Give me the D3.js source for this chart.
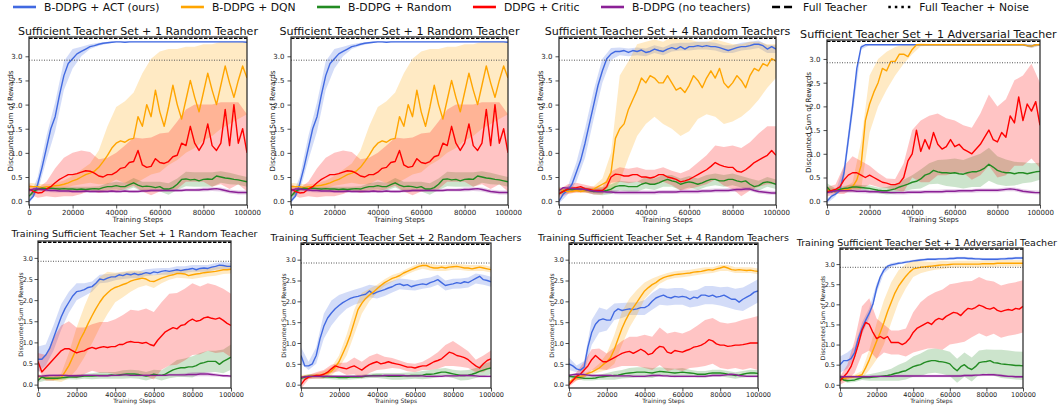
<!DOCTYPE html>
<html>
<head>
<meta charset="utf-8">
<script src="https://cdn.jsdelivr.net/npm/d3@7"></script>
<style>
  body { margin: 0; background: #fff; }
  svg { display: block; font-family: "DejaVu Sans", sans-serif; }
</style>
</head>
<body>
<svg id="chart" width="1060" height="410"></svg>
<script>
// training steps of the mean curves (every 2000) and of the shaded bands (every 4000)
const steps = d3.range(0, 100001, 2000);
const bandSteps = d3.range(0, 100001, 4000);

const xTicks = [0, 20000, 40000, 60000, 80000, 100000];
const yTicks = [0, 0.5, 1, 1.5, 2, 2.5, 3];
const fullTeacher = 3.37;
const noisyTeacher = 2.92;

const methodLabels = ["B-DDPG + ACT (ours)", "B-DDPG + DQN", "B-DDPG + Random", "DDPG + Critic", "B-DDPG (no teachers)"];
const methodKeys = ["act", "dqn", "random", "critic", "none"];

const titles = [
  "Sufficient Teacher Set + 1 Random Teacher",
  "Sufficient Teacher Set + 1 Random Teacher",
  "Sufficient Teacher Set + 4 Random Teachers",
  "Sufficient Teacher Set + 1 Adversarial Teacher",
  "Training Sufficient Teacher Set + 1 Random Teacher",
  "Training Sufficient Teacher Set + 2 Random Teachers",
  "Training Sufficient Teacher Set + 4 Random Teachers",
  "Training Sufficient Teacher Set + 1 Adversarial Teacher"
];

// ---- panel 1 (also shown as panel 2) ----
const p1Act = [
  0.0, 0.1, 0.35, 0.7, 1.1, 1.5, 1.75, 2.2, 2.6, 2.85,
  2.95, 3.05, 3.1, 3.15, 3.2, 3.22, 3.25, 3.27, 3.28, 3.29,
  3.3, 3.3, 3.29, 3.3, 3.3, 3.3, 3.3, 3.3, 3.3, 3.3,
  3.3, 3.3, 3.3, 3.3, 3.3, 3.3, 3.3, 3.3, 3.3, 3.3,
  3.3, 3.3, 3.3, 3.3, 3.3, 3.3, 3.3, 3.3, 3.3, 3.3,
  3.29];
const p1ActSd = [0.05, 0.15, 0.25, 0.3, 0.3, 0.2, 0.1, 0.05, 0.03, 0.02, 0.01, 0.01, 0.01, 0.01, 0.01, 0.01, 0.01, 0.01, 0.01, 0.01, 0.01, 0.01, 0.01, 0.01, 0.01, 0.01];
const p1Dqn = [
  0.3, 0.3, 0.3, 0.28, 0.3, 0.3, 0.32, 0.33, 0.35, 0.38,
  0.42, 0.45, 0.5, 0.55, 0.58, 0.62, 0.7, 0.82, 0.95, 1.1,
  1.2, 1.25, 1.22, 1.28, 1.3, 1.75, 1.55, 2.0, 1.75, 2.3,
  1.85, 1.55, 1.95, 2.4, 2.0, 1.7, 2.1, 2.5, 2.15, 1.85,
  2.25, 2.65, 2.3, 2.0, 2.4, 2.8, 2.45, 2.15, 2.5, 2.8,
  2.55];
const p1DqnSd = [0.08, 0.06, 0.05, 0.05, 0.08, 0.1, 0.15, 0.2, 0.35, 0.6, 0.75, 0.85, 0.95, 1.1, 1.2, 1.25, 1.2, 1.15, 1.1, 1.05, 1.0, 0.95, 0.9, 0.85, 0.8, 0.75];
const p1Random = [
  0.1, 0.2, 0.25, 0.27, 0.26, 0.27, 0.26, 0.25, 0.26, 0.25,
  0.25, 0.24, 0.25, 0.24, 0.25, 0.26, 0.25, 0.28, 0.3, 0.3,
  0.32, 0.3, 0.3, 0.34, 0.38, 0.33, 0.3, 0.31, 0.3, 0.28,
  0.3, 0.25, 0.25, 0.28, 0.35, 0.45, 0.46, 0.44, 0.45, 0.42,
  0.45, 0.46, 0.45, 0.52, 0.5, 0.48, 0.47, 0.45, 0.44, 0.42,
  0.4];
const p1RandomSd = [0.05, 0.05, 0.04, 0.04, 0.04, 0.05, 0.05, 0.05, 0.06, 0.07, 0.08, 0.08, 0.1, 0.1, 0.1, 0.1, 0.12, 0.12, 0.15, 0.15, 0.15, 0.15, 0.12, 0.12, 0.1, 0.1];
const p1Critic = [
  0.25, 0.2, 0.17, 0.18, 0.25, 0.3, 0.38, 0.45, 0.5, 0.55,
  0.55, 0.57, 0.6, 0.63, 0.62, 0.58, 0.52, 0.5, 0.55, 0.55,
  0.6, 0.68, 0.7, 0.8, 0.82, 1.05, 0.75, 0.7, 0.72, 0.88,
  0.8, 0.78, 0.82, 0.92, 0.95, 1.2, 1.15, 1.55, 1.2, 1.05,
  1.2, 1.6, 1.15, 1.05, 1.2, 1.9, 1.15, 2.0, 1.2, 1.5,
  1.0];
const p1CriticSd = [0.1, 0.1, 0.15, 0.3, 0.4, 0.45, 0.45, 0.4, 0.35, 0.35, 0.4, 0.45, 0.5, 0.55, 0.6, 0.6, 0.6, 0.7, 0.75, 0.8, 0.8, 0.85, 0.85, 0.9, 0.85, 0.8];
const p1None = [
  0.22, 0.25, 0.25, 0.24, 0.23, 0.22, 0.22, 0.21, 0.21, 0.21,
  0.2, 0.2, 0.2, 0.21, 0.2, 0.2, 0.2, 0.2, 0.2, 0.21,
  0.2, 0.2, 0.21, 0.2, 0.2, 0.2, 0.21, 0.21, 0.22, 0.22,
  0.22, 0.22, 0.22, 0.22, 0.22, 0.22, 0.23, 0.23, 0.23, 0.23,
  0.24, 0.24, 0.25, 0.26, 0.24, 0.22, 0.2, 0.19, 0.18, 0.18,
  0.18];
const p1NoneSd = [0.04, 0.04, 0.04, 0.04, 0.03, 0.03, 0.03, 0.03, 0.03, 0.03, 0.03, 0.03, 0.03, 0.03, 0.03, 0.03, 0.03, 0.03, 0.03, 0.03, 0.04, 0.04, 0.04, 0.04, 0.04, 0.04];

// ---- panel 3 ----
const p3Act = [
  0.0, 0.15, 0.22, 0.35, 0.6, 0.85, 1.2, 1.6, 2.0, 2.4,
  2.7, 2.95, 3.05, 3.1, 3.1, 3.12, 3.08, 3.12, 3.1, 3.13,
  3.08, 3.1, 3.15, 3.12, 3.1, 3.15, 3.18, 3.15, 3.2, 3.15,
  3.2, 3.2, 3.22, 3.2, 3.22, 3.2, 3.2, 3.18, 3.15, 3.12,
  3.15, 3.18, 3.2, 3.2, 3.22, 3.25, 3.25, 3.22, 3.15, 3.2,
  3.15];
const p3ActSd = [0.05, 0.08, 0.2, 0.3, 0.3, 0.25, 0.12, 0.08, 0.08, 0.08, 0.08, 0.08, 0.08, 0.08, 0.08, 0.08, 0.08, 0.08, 0.08, 0.08, 0.08, 0.08, 0.08, 0.08, 0.08, 0.08];
const p3Dqn = [
  0.25, 0.22, 0.2, 0.2, 0.22, 0.2, 0.22, 0.22, 0.25, 0.3,
  0.35, 0.4, 0.6, 1.3, 1.5, 1.6, 1.9, 2.1, 2.3, 2.55,
  2.45, 2.6, 2.55, 2.45, 2.45, 2.6, 2.45, 2.3, 2.35, 2.25,
  2.4, 2.6, 2.5, 2.35, 2.55, 2.7, 2.55, 2.75, 2.45, 2.35,
  2.45, 2.6, 2.5, 2.35, 2.6, 2.75, 2.7, 2.85, 2.8, 2.95,
  2.9];
const p3DqnSd = [0.05, 0.04, 0.04, 0.05, 0.06, 0.12, 0.4, 1.1, 1.0, 0.95, 0.85, 0.8, 0.85, 0.95, 1.0, 0.95, 0.8, 0.75, 0.8, 0.85, 0.8, 0.75, 0.7, 0.6, 0.45, 0.35];
const p3Random = [
  0.15, 0.2, 0.25, 0.24, 0.25, 0.25, 0.24, 0.22, 0.2, 0.2,
  0.2, 0.22, 0.25, 0.3, 0.32, 0.32, 0.3, 0.3, 0.3, 0.35,
  0.38, 0.35, 0.35, 0.38, 0.42, 0.45, 0.42, 0.4, 0.35, 0.38,
  0.4, 0.38, 0.35, 0.38, 0.42, 0.45, 0.45, 0.42, 0.42, 0.45,
  0.45, 0.42, 0.4, 0.42, 0.35, 0.3, 0.32, 0.38, 0.4, 0.38,
  0.35];
const p3RandomSd = [0.05, 0.05, 0.05, 0.05, 0.06, 0.08, 0.1, 0.1, 0.1, 0.1, 0.12, 0.12, 0.12, 0.12, 0.12, 0.12, 0.12, 0.12, 0.12, 0.12, 0.12, 0.12, 0.12, 0.1, 0.1, 0.1];
const p3Critic = [
  0.15, 0.2, 0.25, 0.27, 0.28, 0.3, 0.26, 0.24, 0.22, 0.22,
  0.22, 0.3, 0.5, 0.56, 0.55, 0.52, 0.52, 0.55, 0.55, 0.5,
  0.5, 0.48, 0.5, 0.55, 0.55, 0.5, 0.48, 0.45, 0.4, 0.42,
  0.45, 0.5, 0.55, 0.6, 0.65, 0.72, 0.8, 0.75, 0.72, 0.7,
  0.7, 0.62, 0.6, 0.65, 0.72, 0.8, 0.85, 0.9, 0.95, 1.05,
  0.95];
const p3CriticSd = [0.08, 0.1, 0.1, 0.08, 0.08, 0.08, 0.12, 0.15, 0.15, 0.15, 0.15, 0.15, 0.15, 0.15, 0.18, 0.2, 0.25, 0.3, 0.35, 0.4, 0.45, 0.5, 0.5, 0.55, 0.6, 0.6];
const p3None = [
  0.22, 0.28, 0.27, 0.26, 0.25, 0.25, 0.24, 0.22, 0.21, 0.2,
  0.2, 0.19, 0.19, 0.18, 0.18, 0.18, 0.18, 0.18, 0.18, 0.18,
  0.18, 0.18, 0.18, 0.19, 0.19, 0.19, 0.19, 0.19, 0.2, 0.2,
  0.2, 0.2, 0.2, 0.21, 0.21, 0.21, 0.22, 0.22, 0.22, 0.22,
  0.23, 0.24, 0.24, 0.25, 0.25, 0.22, 0.2, 0.19, 0.18, 0.17,
  0.17];
const p3NoneSd = [0.05, 0.05, 0.04, 0.04, 0.04, 0.04, 0.04, 0.04, 0.04, 0.04, 0.04, 0.04, 0.04, 0.04, 0.04, 0.04, 0.04, 0.04, 0.04, 0.04, 0.04, 0.04, 0.04, 0.04, 0.04, 0.04];

// ---- panel 4 ----
const p4Act = [
  0.0, 0.1, 0.15, 0.22, 0.6, 1.3, 2.0, 2.8, 3.25, 3.3,
  3.3, 3.3, 3.3, 3.3, 3.3, 3.3, 3.3, 3.3, 3.3, 3.3,
  3.3, 3.3, 3.3, 3.3, 3.3, 3.3, 3.3, 3.3, 3.3, 3.3,
  3.3, 3.3, 3.3, 3.3, 3.3, 3.3, 3.3, 3.3, 3.3, 3.3,
  3.3, 3.3, 3.3, 3.3, 3.3, 3.3, 3.3, 3.28, 3.27, 3.3,
  3.3];
const p4ActSd = [0.05, 0.05, 0.15, 0.2, 0.05, 0.01, 0.01, 0.01, 0.01, 0.01, 0.01, 0.01, 0.01, 0.01, 0.01, 0.01, 0.01, 0.01, 0.01, 0.01, 0.01, 0.01, 0.01, 0.02, 0.04, 0.01];
const p4Dqn = [
  0.25, 0.2, 0.22, 0.25, 0.25, 0.25, 0.3, 0.45, 0.75, 1.7,
  2.05, 2.3, 2.5, 2.8, 2.75, 2.95, 2.95, 3.1, 3.1, 3.05,
  3.2, 3.3, 3.3, 3.3, 3.3, 3.3, 3.3, 3.3, 3.3, 3.3,
  3.3, 3.3, 3.3, 3.3, 3.3, 3.3, 3.3, 3.3, 3.3, 3.3,
  3.3, 3.3, 3.3, 3.3, 3.3, 3.3, 3.3, 3.28, 3.27, 3.3,
  3.3];
const p4DqnSd = [0.05, 0.04, 0.04, 0.1, 0.5, 0.6, 0.5, 0.4, 0.3, 0.2, 0.1, 0.03, 0.02, 0.02, 0.02, 0.02, 0.02, 0.02, 0.02, 0.02, 0.02, 0.02, 0.02, 0.02, 0.04, 0.02];
const p4Random = [
  0.3, 0.2, 0.22, 0.25, 0.27, 0.28, 0.3, 0.3, 0.29, 0.28,
  0.27, 0.25, 0.23, 0.22, 0.22, 0.24, 0.26, 0.3, 0.33, 0.36,
  0.4, 0.42, 0.47, 0.55, 0.58, 0.65, 0.62, 0.6, 0.6, 0.59,
  0.6, 0.58, 0.57, 0.6, 0.62, 0.62, 0.65, 0.7, 0.78, 0.72,
  0.65, 0.62, 0.6, 0.6, 0.58, 0.6, 0.6, 0.58, 0.6, 0.62,
  0.63];
const p4RandomSd = [0.08, 0.05, 0.05, 0.05, 0.05, 0.06, 0.06, 0.08, 0.1, 0.12, 0.15, 0.2, 0.22, 0.25, 0.28, 0.3, 0.3, 0.32, 0.35, 0.35, 0.3, 0.28, 0.25, 0.22, 0.2, 0.18];
const p4Critic = [
  0.2, 0.22, 0.25, 0.3, 0.45, 0.55, 0.6, 0.6, 0.55, 0.5,
  0.55, 0.5, 0.45, 0.4, 0.38, 0.35, 0.35, 0.38, 0.5, 0.85,
  1.0, 1.5, 1.05, 1.3, 1.1, 1.45, 1.2, 1.1, 1.15, 1.3,
  1.15, 1.2, 1.1, 1.05, 1.0, 1.1, 1.2, 1.35, 1.5, 1.3,
  1.25, 1.45, 1.35, 1.8, 1.65, 2.2, 1.7, 2.05, 1.9, 2.1,
  1.6];
const p4CriticSd = [0.1, 0.1, 0.3, 0.35, 0.3, 0.2, 0.15, 0.1, 0.12, 0.3, 0.5, 0.65, 0.7, 0.65, 0.6, 0.55, 0.5, 0.55, 0.65, 0.75, 0.75, 0.8, 0.9, 0.95, 1.0, 0.9];
const p4None = [
  0.18, 0.2, 0.22, 0.22, 0.22, 0.22, 0.22, 0.21, 0.21, 0.21,
  0.2, 0.2, 0.2, 0.19, 0.19, 0.18, 0.18, 0.18, 0.18, 0.19,
  0.19, 0.19, 0.19, 0.2, 0.2, 0.2, 0.2, 0.2, 0.21, 0.21,
  0.21, 0.22, 0.22, 0.22, 0.22, 0.23, 0.23, 0.23, 0.23, 0.23,
  0.23, 0.24, 0.25, 0.26, 0.25, 0.23, 0.21, 0.2, 0.19, 0.18,
  0.18];
const p4NoneSd = [0.04, 0.04, 0.04, 0.04, 0.04, 0.04, 0.04, 0.04, 0.04, 0.04, 0.04, 0.04, 0.04, 0.04, 0.04, 0.04, 0.04, 0.04, 0.04, 0.04, 0.04, 0.04, 0.04, 0.04, 0.04, 0.04];

// ---- panel 5 ----
const p5Act = [
  0.6, 0.6, 0.7, 0.85, 1.1, 1.35, 1.6, 1.8, 1.95, 2.1,
  2.2, 2.22, 2.25, 2.3, 2.32, 2.4, 2.5, 2.48, 2.52, 2.55,
  2.55, 2.6, 2.58, 2.62, 2.6, 2.63, 2.6, 2.62, 2.65, 2.63,
  2.67, 2.65, 2.68, 2.7, 2.68, 2.7, 2.72, 2.7, 2.72, 2.73,
  2.75, 2.72, 2.75, 2.76, 2.75, 2.78, 2.8, 2.83, 2.82, 2.8,
  2.8];
const p5ActSd = [0.3, 0.25, 0.3, 0.3, 0.25, 0.2, 0.15, 0.12, 0.1, 0.1, 0.08, 0.08, 0.08, 0.08, 0.08, 0.08, 0.08, 0.08, 0.08, 0.08, 0.08, 0.08, 0.08, 0.08, 0.08, 0.08];
const p5Dqn = [
  0.2, 0.18, 0.15, 0.15, 0.14, 0.14, 0.16, 0.3, 0.45, 0.65,
  0.85, 1.08, 1.25, 1.45, 1.63, 1.8, 1.95, 2.08, 2.17, 2.25,
  2.3, 2.33, 2.37, 2.4, 2.45, 2.48, 2.5, 2.52, 2.5, 2.45,
  2.44, 2.48, 2.52, 2.55, 2.58, 2.6, 2.63, 2.63, 2.62, 2.58,
  2.6, 2.62, 2.63, 2.65, 2.66, 2.67, 2.68, 2.7, 2.72, 2.72,
  2.73];
const p5DqnSd = [0.05, 0.05, 0.05, 0.1, 0.3, 0.5, 0.6, 0.65, 0.6, 0.5, 0.35, 0.3, 0.25, 0.2, 0.15, 0.15, 0.12, 0.1, 0.1, 0.1, 0.1, 0.1, 0.1, 0.1, 0.1, 0.1];
const p5Random = [
  0.1, 0.18, 0.15, 0.15, 0.15, 0.15, 0.16, 0.17, 0.18, 0.18,
  0.18, 0.19, 0.2, 0.2, 0.2, 0.21, 0.22, 0.22, 0.22, 0.23,
  0.22, 0.23, 0.24, 0.25, 0.25, 0.25, 0.24, 0.22, 0.2, 0.22,
  0.25, 0.23, 0.22, 0.25, 0.3, 0.35, 0.38, 0.4, 0.4, 0.42,
  0.42, 0.45, 0.5, 0.52, 0.55, 0.55, 0.55, 0.48, 0.55, 0.6,
  0.65];
const p5RandomSd = [0.05, 0.05, 0.05, 0.05, 0.05, 0.06, 0.06, 0.07, 0.08, 0.08, 0.08, 0.1, 0.1, 0.1, 0.1, 0.1, 0.12, 0.15, 0.2, 0.22, 0.25, 0.25, 0.25, 0.25, 0.28, 0.3];
const p5Critic = [
  0.55, 0.3, 0.4, 0.5, 0.6, 0.7, 0.8, 0.85, 0.85, 0.8,
  0.75, 0.78, 0.8, 0.85, 0.88, 0.85, 0.88, 0.9, 0.88, 0.9,
  0.9, 0.95, 0.95, 1.0, 1.02, 1.0, 1.0, 0.98, 1.0, 0.95,
  0.92, 1.05, 1.15, 1.25, 1.3, 1.35, 1.32, 1.4, 1.42, 1.5,
  1.55, 1.5, 1.52, 1.58, 1.6, 1.57, 1.55, 1.58, 1.52, 1.45,
  1.4];
const p5CriticSd = [0.2, 0.3, 0.5, 0.6, 0.65, 0.6, 0.55, 0.55, 0.6, 0.6, 0.65, 0.7, 0.75, 0.75, 0.8, 0.8, 0.8, 0.85, 0.85, 0.85, 0.85, 0.8, 0.8, 0.8, 0.75, 0.75];
const p5None = [
  0.2, 0.2, 0.21, 0.22, 0.22, 0.22, 0.22, 0.22, 0.21, 0.21,
  0.21, 0.21, 0.22, 0.22, 0.22, 0.22, 0.21, 0.21, 0.21, 0.22,
  0.22, 0.22, 0.23, 0.23, 0.22, 0.22, 0.22, 0.22, 0.22, 0.22,
  0.22, 0.22, 0.22, 0.22, 0.23, 0.23, 0.23, 0.23, 0.23, 0.24,
  0.24, 0.24, 0.25, 0.25, 0.25, 0.24, 0.23, 0.22, 0.21, 0.21,
  0.2];
const p5NoneSd = [0.03, 0.03, 0.03, 0.03, 0.03, 0.03, 0.03, 0.03, 0.03, 0.03, 0.03, 0.03, 0.03, 0.03, 0.03, 0.03, 0.03, 0.03, 0.03, 0.04, 0.05, 0.05, 0.05, 0.04, 0.03, 0.03];

// ---- panel 6 ----
const p6Act = [
  0.7, 0.45, 0.45, 0.5, 0.7, 1.1, 1.4, 1.6, 1.72, 1.82,
  1.9, 1.97, 2.02, 2.07, 2.1, 2.12, 2.15, 2.17, 2.25, 2.18,
  2.22, 2.25, 2.28, 2.32, 2.35, 2.4, 2.42, 2.38, 2.4, 2.35,
  2.38, 2.4, 2.42, 2.4, 2.45, 2.48, 2.52, 2.45, 2.38, 2.4,
  2.42, 2.45, 2.43, 2.47, 2.45, 2.5, 2.55, 2.6, 2.52, 2.5,
  2.47];
const p6ActSd = [0.2, 0.1, 0.2, 0.3, 0.3, 0.25, 0.2, 0.18, 0.18, 0.15, 0.15, 0.15, 0.14, 0.13, 0.13, 0.12, 0.12, 0.12, 0.12, 0.12, 0.12, 0.12, 0.12, 0.12, 0.12, 0.12];
const p6Dqn = [
  0.18, 0.2, 0.2, 0.21, 0.22, 0.23, 0.25, 0.28, 0.32, 0.42,
  0.55, 0.75, 0.95, 1.2, 1.5, 1.8, 1.95, 2.07, 2.15, 2.22,
  2.3, 2.38, 2.45, 2.5, 2.55, 2.58, 2.62, 2.68, 2.72, 2.76,
  2.8, 2.84, 2.86, 2.86, 2.82, 2.8, 2.8, 2.82, 2.8, 2.82,
  2.83, 2.84, 2.82, 2.8, 2.8, 2.78, 2.8, 2.82, 2.8, 2.78,
  2.76];
const p6DqnSd = [0.05, 0.05, 0.05, 0.08, 0.1, 0.15, 0.25, 0.3, 0.25, 0.15, 0.1, 0.08, 0.08, 0.07, 0.07, 0.07, 0.08, 0.08, 0.07, 0.07, 0.07, 0.07, 0.07, 0.07, 0.07, 0.07];
const p6Random = [
  0.15, 0.18, 0.2, 0.2, 0.2, 0.2, 0.19, 0.19, 0.18, 0.18,
  0.17, 0.17, 0.17, 0.18, 0.18, 0.18, 0.19, 0.2, 0.21, 0.22,
  0.22, 0.22, 0.21, 0.2, 0.2, 0.2, 0.2, 0.21, 0.21, 0.22,
  0.22, 0.22, 0.23, 0.25, 0.25, 0.26, 0.28, 0.3, 0.3, 0.28,
  0.26, 0.24, 0.22, 0.22, 0.23, 0.25, 0.28, 0.32, 0.35, 0.38,
  0.4];
const p6RandomSd = [0.05, 0.05, 0.05, 0.05, 0.05, 0.05, 0.05, 0.05, 0.05, 0.05, 0.06, 0.07, 0.08, 0.08, 0.08, 0.08, 0.1, 0.1, 0.1, 0.1, 0.1, 0.12, 0.12, 0.12, 0.15, 0.15];
const p6Critic = [
  0.0, 0.12, 0.18, 0.2, 0.22, 0.22, 0.25, 0.3, 0.38, 0.45,
  0.42, 0.4, 0.38, 0.42, 0.45, 0.4, 0.35, 0.42, 0.48, 0.52,
  0.55, 0.5, 0.52, 0.55, 0.52, 0.5, 0.48, 0.45, 0.42, 0.42,
  0.4, 0.43, 0.45, 0.45, 0.5, 0.55, 0.58, 0.62, 0.7, 0.78,
  0.75, 0.7, 0.68, 0.65, 0.6, 0.52, 0.45, 0.4, 0.5, 0.58,
  0.62];
const p6CriticSd = [0.1, 0.05, 0.08, 0.1, 0.1, 0.1, 0.15, 0.2, 0.2, 0.2, 0.2, 0.15, 0.12, 0.1, 0.1, 0.1, 0.1, 0.15, 0.2, 0.25, 0.3, 0.25, 0.2, 0.15, 0.2, 0.2];
const p6None = [
  0.17, 0.19, 0.2, 0.2, 0.2, 0.2, 0.2, 0.2, 0.2, 0.2,
  0.2, 0.2, 0.2, 0.2, 0.2, 0.2, 0.2, 0.21, 0.21, 0.21,
  0.21, 0.21, 0.22, 0.22, 0.22, 0.22, 0.22, 0.22, 0.21, 0.21,
  0.21, 0.21, 0.21, 0.2, 0.2, 0.2, 0.2, 0.2, 0.21, 0.21,
  0.21, 0.21, 0.22, 0.22, 0.22, 0.22, 0.21, 0.2, 0.2, 0.2,
  0.2];
const p6NoneSd = [0.03, 0.03, 0.03, 0.03, 0.03, 0.03, 0.03, 0.03, 0.03, 0.03, 0.03, 0.03, 0.03, 0.03, 0.03, 0.03, 0.03, 0.03, 0.03, 0.03, 0.03, 0.03, 0.03, 0.03, 0.03, 0.03];

// ---- panel 7 ----
const p7Act = [
  0.5, 0.45, 0.38, 0.35, 0.42, 0.9, 1.25, 1.45, 1.55, 1.58,
  1.55, 1.55, 1.75, 1.82, 1.78, 1.8, 1.82, 1.8, 1.82, 1.85,
  1.85, 1.9, 2.0, 2.08, 2.12, 2.15, 2.1, 2.08, 2.12, 2.1,
  2.12, 2.1, 2.05, 2.1, 2.08, 2.15, 2.15, 2.12, 2.15, 2.1,
  2.12, 2.15, 2.1, 2.05, 2.05, 1.98, 2.05, 2.1, 2.15, 2.22,
  2.25];
const p7ActSd = [0.15, 0.08, 0.15, 0.3, 0.3, 0.25, 0.2, 0.18, 0.15, 0.15, 0.18, 0.2, 0.2, 0.2, 0.2, 0.2, 0.2, 0.2, 0.22, 0.22, 0.22, 0.25, 0.25, 0.28, 0.28, 0.28];
const p7Dqn = [
  0.05, 0.12, 0.15, 0.2, 0.22, 0.27, 0.3, 0.35, 0.4, 0.48,
  0.55, 0.65, 0.85, 1.1, 1.35, 1.55, 1.72, 1.85, 1.98, 2.12,
  2.25, 2.33, 2.4, 2.45, 2.52, 2.57, 2.6, 2.62, 2.64, 2.65,
  2.66, 2.67, 2.68, 2.7, 2.71, 2.72, 2.74, 2.76, 2.75, 2.78,
  2.8, 2.83, 2.8, 2.76, 2.75, 2.76, 2.75, 2.74, 2.75, 2.73,
  2.72];
const p7DqnSd = [0.05, 0.05, 0.05, 0.05, 0.1, 0.2, 0.35, 0.4, 0.35, 0.3, 0.2, 0.15, 0.1, 0.08, 0.08, 0.08, 0.08, 0.08, 0.08, 0.07, 0.07, 0.07, 0.07, 0.07, 0.07, 0.07];
const p7Random = [
  0.2, 0.19, 0.18, 0.17, 0.15, 0.15, 0.15, 0.16, 0.18, 0.19,
  0.2, 0.21, 0.22, 0.23, 0.25, 0.27, 0.28, 0.29, 0.3, 0.3,
  0.3, 0.29, 0.28, 0.3, 0.32, 0.31, 0.3, 0.29, 0.28, 0.29,
  0.3, 0.29, 0.28, 0.27, 0.25, 0.25, 0.25, 0.27, 0.28, 0.28,
  0.28, 0.27, 0.25, 0.24, 0.22, 0.23, 0.25, 0.27, 0.28, 0.28,
  0.27];
const p7RandomSd = [0.05, 0.05, 0.05, 0.05, 0.06, 0.08, 0.1, 0.1, 0.12, 0.12, 0.12, 0.12, 0.1, 0.1, 0.1, 0.1, 0.08, 0.08, 0.08, 0.08, 0.08, 0.08, 0.08, 0.08, 0.08, 0.08];
const p7Critic = [
  0.0, 0.1, 0.2, 0.25, 0.35, 0.45, 0.6, 0.7, 0.62, 0.55,
  0.55, 0.6, 0.65, 0.7, 0.75, 0.78, 0.8, 0.75, 0.8, 0.85,
  0.8, 0.72, 0.75, 0.85, 0.92, 0.9, 0.78, 0.75, 0.82, 0.8,
  0.78, 0.82, 0.85, 0.9, 0.92, 0.95, 1.0, 1.08, 1.05, 0.98,
  0.95, 0.95, 0.92, 0.93, 0.95, 0.95, 0.96, 0.98, 1.0, 1.0,
  1.0];
const p7CriticSd = [0.05, 0.1, 0.2, 0.25, 0.25, 0.2, 0.25, 0.3, 0.35, 0.35, 0.4, 0.4, 0.45, 0.45, 0.45, 0.45, 0.45, 0.5, 0.55, 0.55, 0.55, 0.55, 0.55, 0.6, 0.6, 0.65];
const p7None = [
  0.22, 0.24, 0.25, 0.25, 0.24, 0.23, 0.22, 0.22, 0.22, 0.22,
  0.22, 0.22, 0.21, 0.21, 0.21, 0.21, 0.21, 0.2, 0.2, 0.2,
  0.2, 0.21, 0.22, 0.22, 0.22, 0.21, 0.21, 0.2, 0.2, 0.2,
  0.2, 0.2, 0.2, 0.2, 0.2, 0.2, 0.2, 0.21, 0.22, 0.22,
  0.22, 0.23, 0.24, 0.25, 0.24, 0.22, 0.21, 0.2, 0.2, 0.2,
  0.2];
const p7NoneSd = [0.03, 0.03, 0.03, 0.03, 0.03, 0.03, 0.03, 0.03, 0.03, 0.03, 0.03, 0.03, 0.03, 0.03, 0.03, 0.03, 0.03, 0.03, 0.03, 0.03, 0.03, 0.03, 0.03, 0.03, 0.03, 0.03];

// ---- panel 8 ----
const p8Act = [
  0.5, 0.6, 0.6, 0.65, 0.8, 1.15, 1.4, 1.6, 1.78, 2.0,
  2.4, 2.68, 2.85, 2.95, 2.98, 3.0, 3.02, 3.03, 3.05, 3.06,
  3.08, 3.09, 3.1, 3.11, 3.12, 3.12, 3.12, 3.13, 3.13, 3.13,
  3.14, 3.14, 3.15, 3.15, 3.15, 3.14, 3.14, 3.13, 3.13, 3.12,
  3.12, 3.12, 3.12, 3.12, 3.13, 3.13, 3.14, 3.14, 3.15, 3.15,
  3.15];
const p8ActSd = [0.2, 0.2, 0.15, 0.15, 0.12, 0.12, 0.08, 0.05, 0.03, 0.03, 0.03, 0.03, 0.03, 0.03, 0.03, 0.03, 0.03, 0.03, 0.03, 0.03, 0.03, 0.03, 0.03, 0.03, 0.03, 0.03];
const p8Dqn = [
  0.12, 0.15, 0.18, 0.18, 0.2, 0.22, 0.25, 0.42, 0.62, 0.85,
  1.08, 1.3, 1.55, 1.82, 2.05, 2.28, 2.45, 2.58, 2.7, 2.8,
  2.88, 2.9, 2.92, 2.93, 2.94, 2.95, 2.96, 2.97, 2.98, 2.98,
  2.99, 3.0, 3.0, 3.0, 3.0, 3.0, 3.0, 3.0, 3.0, 3.01,
  3.01, 3.01, 3.01, 3.02, 3.02, 3.02, 3.02, 3.02, 3.02, 3.02,
  3.02];
const p8DqnSd = [0.05, 0.05, 0.05, 0.1, 0.25, 0.45, 0.55, 0.5, 0.4, 0.3, 0.2, 0.15, 0.12, 0.1, 0.1, 0.08, 0.08, 0.08, 0.08, 0.08, 0.08, 0.08, 0.08, 0.08, 0.08, 0.08];
const p8Random = [
  0.2, 0.12, 0.1, 0.11, 0.12, 0.15, 0.18, 0.18, 0.18, 0.19,
  0.2, 0.21, 0.22, 0.23, 0.25, 0.28, 0.3, 0.33, 0.35, 0.4,
  0.45, 0.48, 0.5, 0.55, 0.58, 0.6, 0.6, 0.58, 0.57, 0.55,
  0.52, 0.42, 0.35, 0.45, 0.5, 0.42, 0.38, 0.45, 0.55, 0.57,
  0.58, 0.6, 0.55, 0.54, 0.52, 0.51, 0.5, 0.49, 0.48, 0.48,
  0.47];
const p8RandomSd = [0.05, 0.05, 0.05, 0.06, 0.08, 0.1, 0.12, 0.15, 0.2, 0.22, 0.25, 0.28, 0.3, 0.3, 0.3, 0.3, 0.3, 0.3, 0.3, 0.3, 0.3, 0.32, 0.35, 0.35, 0.35, 0.35];
const p8Critic = [
  0.1, 0.2, 0.3, 0.45, 0.7, 1.0, 1.35, 1.55, 1.5, 1.3,
  1.15, 1.2, 1.15, 1.2, 1.05, 1.05, 1.05, 1.0, 1.05, 1.15,
  1.3, 1.4, 1.45, 1.5, 1.55, 1.5, 1.6, 1.65, 1.62, 1.7,
  1.75, 1.8, 1.78, 1.72, 1.82, 1.9, 1.88, 1.92, 1.98, 1.95,
  1.9, 1.88, 1.92, 1.85, 1.82, 1.85, 1.87, 1.85, 1.9, 1.88,
  1.95];
const p8CriticSd = [0.1, 0.2, 0.4, 0.6, 0.65, 0.5, 0.35, 0.3, 0.3, 0.35, 0.5, 0.6, 0.65, 0.7, 0.75, 0.75, 0.75, 0.75, 0.7, 0.7, 0.7, 0.65, 0.65, 0.65, 0.65, 0.65];
const p8None = [
  0.2, 0.2, 0.2, 0.2, 0.2, 0.2, 0.2, 0.2, 0.2, 0.21,
  0.21, 0.21, 0.21, 0.21, 0.21, 0.22, 0.22, 0.22, 0.22, 0.22,
  0.22, 0.22, 0.22, 0.22, 0.22, 0.22, 0.22, 0.22, 0.22, 0.22,
  0.22, 0.22, 0.22, 0.22, 0.23, 0.23, 0.23, 0.24, 0.24, 0.25,
  0.25, 0.25, 0.25, 0.24, 0.23, 0.22, 0.21, 0.21, 0.2, 0.2,
  0.2];
const p8NoneSd = [0.03, 0.03, 0.03, 0.03, 0.03, 0.03, 0.03, 0.03, 0.03, 0.03, 0.03, 0.03, 0.03, 0.03, 0.03, 0.03, 0.03, 0.03, 0.03, 0.03, 0.03, 0.03, 0.03, 0.03, 0.03, 0.03];

// table for the loop below
const p1 = { act: p1Act, actSd: p1ActSd, dqn: p1Dqn, dqnSd: p1DqnSd, random: p1Random, randomSd: p1RandomSd, critic: p1Critic, criticSd: p1CriticSd, none: p1None, noneSd: p1NoneSd };
const p3 = { act: p3Act, actSd: p3ActSd, dqn: p3Dqn, dqnSd: p3DqnSd, random: p3Random, randomSd: p3RandomSd, critic: p3Critic, criticSd: p3CriticSd, none: p3None, noneSd: p3NoneSd };
const p4 = { act: p4Act, actSd: p4ActSd, dqn: p4Dqn, dqnSd: p4DqnSd, random: p4Random, randomSd: p4RandomSd, critic: p4Critic, criticSd: p4CriticSd, none: p4None, noneSd: p4NoneSd };
const p5 = { act: p5Act, actSd: p5ActSd, dqn: p5Dqn, dqnSd: p5DqnSd, random: p5Random, randomSd: p5RandomSd, critic: p5Critic, criticSd: p5CriticSd, none: p5None, noneSd: p5NoneSd };
const p6 = { act: p6Act, actSd: p6ActSd, dqn: p6Dqn, dqnSd: p6DqnSd, random: p6Random, randomSd: p6RandomSd, critic: p6Critic, criticSd: p6CriticSd, none: p6None, noneSd: p6NoneSd };
const p7 = { act: p7Act, actSd: p7ActSd, dqn: p7Dqn, dqnSd: p7DqnSd, random: p7Random, randomSd: p7RandomSd, critic: p7Critic, criticSd: p7CriticSd, none: p7None, noneSd: p7NoneSd };
const p8 = { act: p8Act, actSd: p8ActSd, dqn: p8Dqn, dqnSd: p8DqnSd, random: p8Random, randomSd: p8RandomSd, critic: p8Critic, criticSd: p8CriticSd, none: p8None, noneSd: p8NoneSd };
const panelData = [p1, p1, p3, p4, p5, p6, p7, p8];

// ---- layout / style ----
const colors = ["#4169e1", "#ffa500", "#228b22", "#ff0000", "#8b2096"];
const frames = [
  { x0: 29, x1: 247, y0: 37, y1: 205, row: 0, titleY: 35 },
  { x0: 291, x1: 508, y0: 37, y1: 205, row: 0, titleY: 35 },
  { x0: 559, x1: 776, y0: 37, y1: 205, row: 0, titleY: 35 },
  { x0: 827, x1: 1040, y0: 40, y1: 205, row: 0, titleY: 38 },
  { x0: 38, x1: 231, y0: 241, y1: 388, row: 1, titleY: 237 },
  { x0: 301, x1: 491, y0: 243, y1: 388, row: 1, titleY: 240.5 },
  { x0: 569, x1: 758, y0: 243, y1: 388, row: 1, titleY: 240.5 },
  { x0: 840, x1: 1023, y0: 248, y1: 388, row: 1, titleY: 246 }
];
const rowStyle = [
  { title: 11.1, tick: 7, label: 7.2, ylabOff: 19, tickPad: 6.5, xTickDy: 9.5, xLabDy: 16.5 },
  { title: 9.5, tick: 6.5, label: 6, ylabOff: 17.5, tickPad: 5, xTickDy: 8.5, xLabDy: 15 }
];
const yDomain = [-0.08, 3.4];
const pageRight = 1057;

const svg = d3.select("#chart");
const defs = svg.append("defs");

panelData.forEach((p, i) => {
  const f = frames[i];
  const st = rowStyle[f.row];
  const x = d3.scaleLinear().domain([0, 100000]).range([f.x0, f.x1]);
  const y = d3.scaleLinear().domain(yDomain).range([f.y1, f.y0]);
  const g = svg.append("g");

  defs.append("clipPath").attr("id", "clip" + i)
    .append("rect")
    .attr("x", f.x0).attr("y", f.y0)
    .attr("width", f.x1 - f.x0).attr("height", f.y1 - f.y0);
  const plot = g.append("g").attr("clip-path", `url(#clip${i})`);

  // shaded bands
  methodKeys.forEach((m, j) => {
    const mean = p[m];
    const area = d3.area()
      .x((d, k) => x(bandSteps[k]))
      .y0((d, k) => y(mean[2 * k] - d))
      .y1((d, k) => y(mean[2 * k] + d));
    plot.append("path")
      .datum(p[m + "Sd"])
      .attr("d", area)
      .attr("fill", colors[j])
      .attr("fill-opacity", 0.23);
  });

  // mean curves
  methodKeys.forEach((m, j) => {
    const line = d3.line().x((d, k) => x(steps[k])).y(d => y(d));
    plot.append("path")
      .datum(p[m])
      .attr("d", line)
      .attr("fill", "none")
      .attr("stroke", colors[j])
      .attr("stroke-width", 1.4)
      .attr("stroke-linejoin", "round");
  });

  // teacher reference lines
  plot.append("line")
    .attr("x1", f.x0).attr("x2", f.x1)
    .attr("y1", y(fullTeacher)).attr("y2", y(fullTeacher))
    .attr("stroke", "#000").attr("stroke-width", 1.3)
    .attr("stroke-dasharray", "3.5,1.5");
  plot.append("line")
    .attr("x1", f.x0).attr("x2", f.x1)
    .attr("y1", y(noisyTeacher)).attr("y2", y(noisyTeacher))
    .attr("stroke", "#555").attr("stroke-width", 1)
    .attr("stroke-dasharray", "1,1.5");

  // axes
  const xAxis = g.append("g")
    .attr("transform", `translate(0,${f.y1})`)
    .call(d3.axisBottom(x).tickValues(xTicks).tickFormat(d3.format("d")).tickSize(3.5).tickPadding(1));
  const yAxis = g.append("g")
    .attr("transform", `translate(${f.x0},0)`)
    .call(d3.axisLeft(y).tickValues(yTicks).tickFormat(d3.format(".1f")).tickSize(3.5).tickPadding(st.tickPad - 3.5));
  [xAxis, yAxis].forEach(a => {
    a.select(".domain").remove();
    a.selectAll("line").attr("stroke", "#222").attr("stroke-width", 0.8);
    a.selectAll("text")
      .attr("fill", "#222")
      .style("font-family", "DejaVu Sans")
      .style("font-size", st.tick + "px");
  });
  xAxis.selectAll("text").attr("dy", null).attr("y", st.xTickDy);
  yAxis.selectAll("text").attr("dy", "0.35em");

  g.append("rect")
    .attr("x", f.x0).attr("y", f.y0)
    .attr("width", f.x1 - f.x0).attr("height", f.y1 - f.y0)
    .attr("fill", "none").attr("stroke", "#222").attr("stroke-width", 1.2);

  // labels
  const title = g.append("text")
    .attr("x", (f.x0 + f.x1) / 2).attr("y", f.titleY)
    .attr("text-anchor", "middle")
    .attr("fill", "#111")
    .style("font-size", st.title + "px")
    .text(titles[i]);
  // keep the widest titles inside the page
  const tb = title.node().getBBox();
  if (tb.x + tb.width > pageRight) {
    title.attr("x", (f.x0 + f.x1) / 2 - (tb.x + tb.width - pageRight));
  }
  g.append("text")
    .attr("x", (f.x0 + f.x1) / 2).attr("y", f.y1 + st.xLabDy)
    .attr("text-anchor", "middle")
    .attr("fill", "#222")
    .style("font-size", st.label + "px")
    .text("Training Steps");
  g.append("text")
    .attr("transform", `translate(${f.x0 - st.ylabOff},${(f.y0 + f.y1) / 2}) rotate(-90)`)
    .attr("text-anchor", "middle")
    .attr("dy", "0.35em")
    .attr("fill", "#222")
    .style("font-size", st.label + "px")
    .text("Discounted Sum of Rewards");
});

// legend across the top
const legendItems = methodLabels.map((t, j) => ({ text: t, color: colors[j], dash: null }))
  .concat([
    { text: "Full Teacher", color: "#000", dash: "8,4" },
    { text: "Full Teacher + Noise", color: "#000", dash: "2.5,4" }
  ]);
const legend = svg.append("g");
let lx = 13;
legendItems.forEach(it => {
  legend.append("line")
    .attr("x1", lx).attr("x2", lx + 23)
    .attr("y1", 7).attr("y2", 7)
    .attr("stroke", it.color)
    .attr("stroke-width", 2.6)
    .attr("stroke-dasharray", it.dash);
  const t = legend.append("text")
    .attr("x", lx + 31).attr("y", 11)
    .attr("fill", "#111")
    .style("font-size", "10.8px")
    .text(it.text);
  lx += 31 + t.node().getComputedTextLength() + 21.5;
});
</script>
</body>
</html>
